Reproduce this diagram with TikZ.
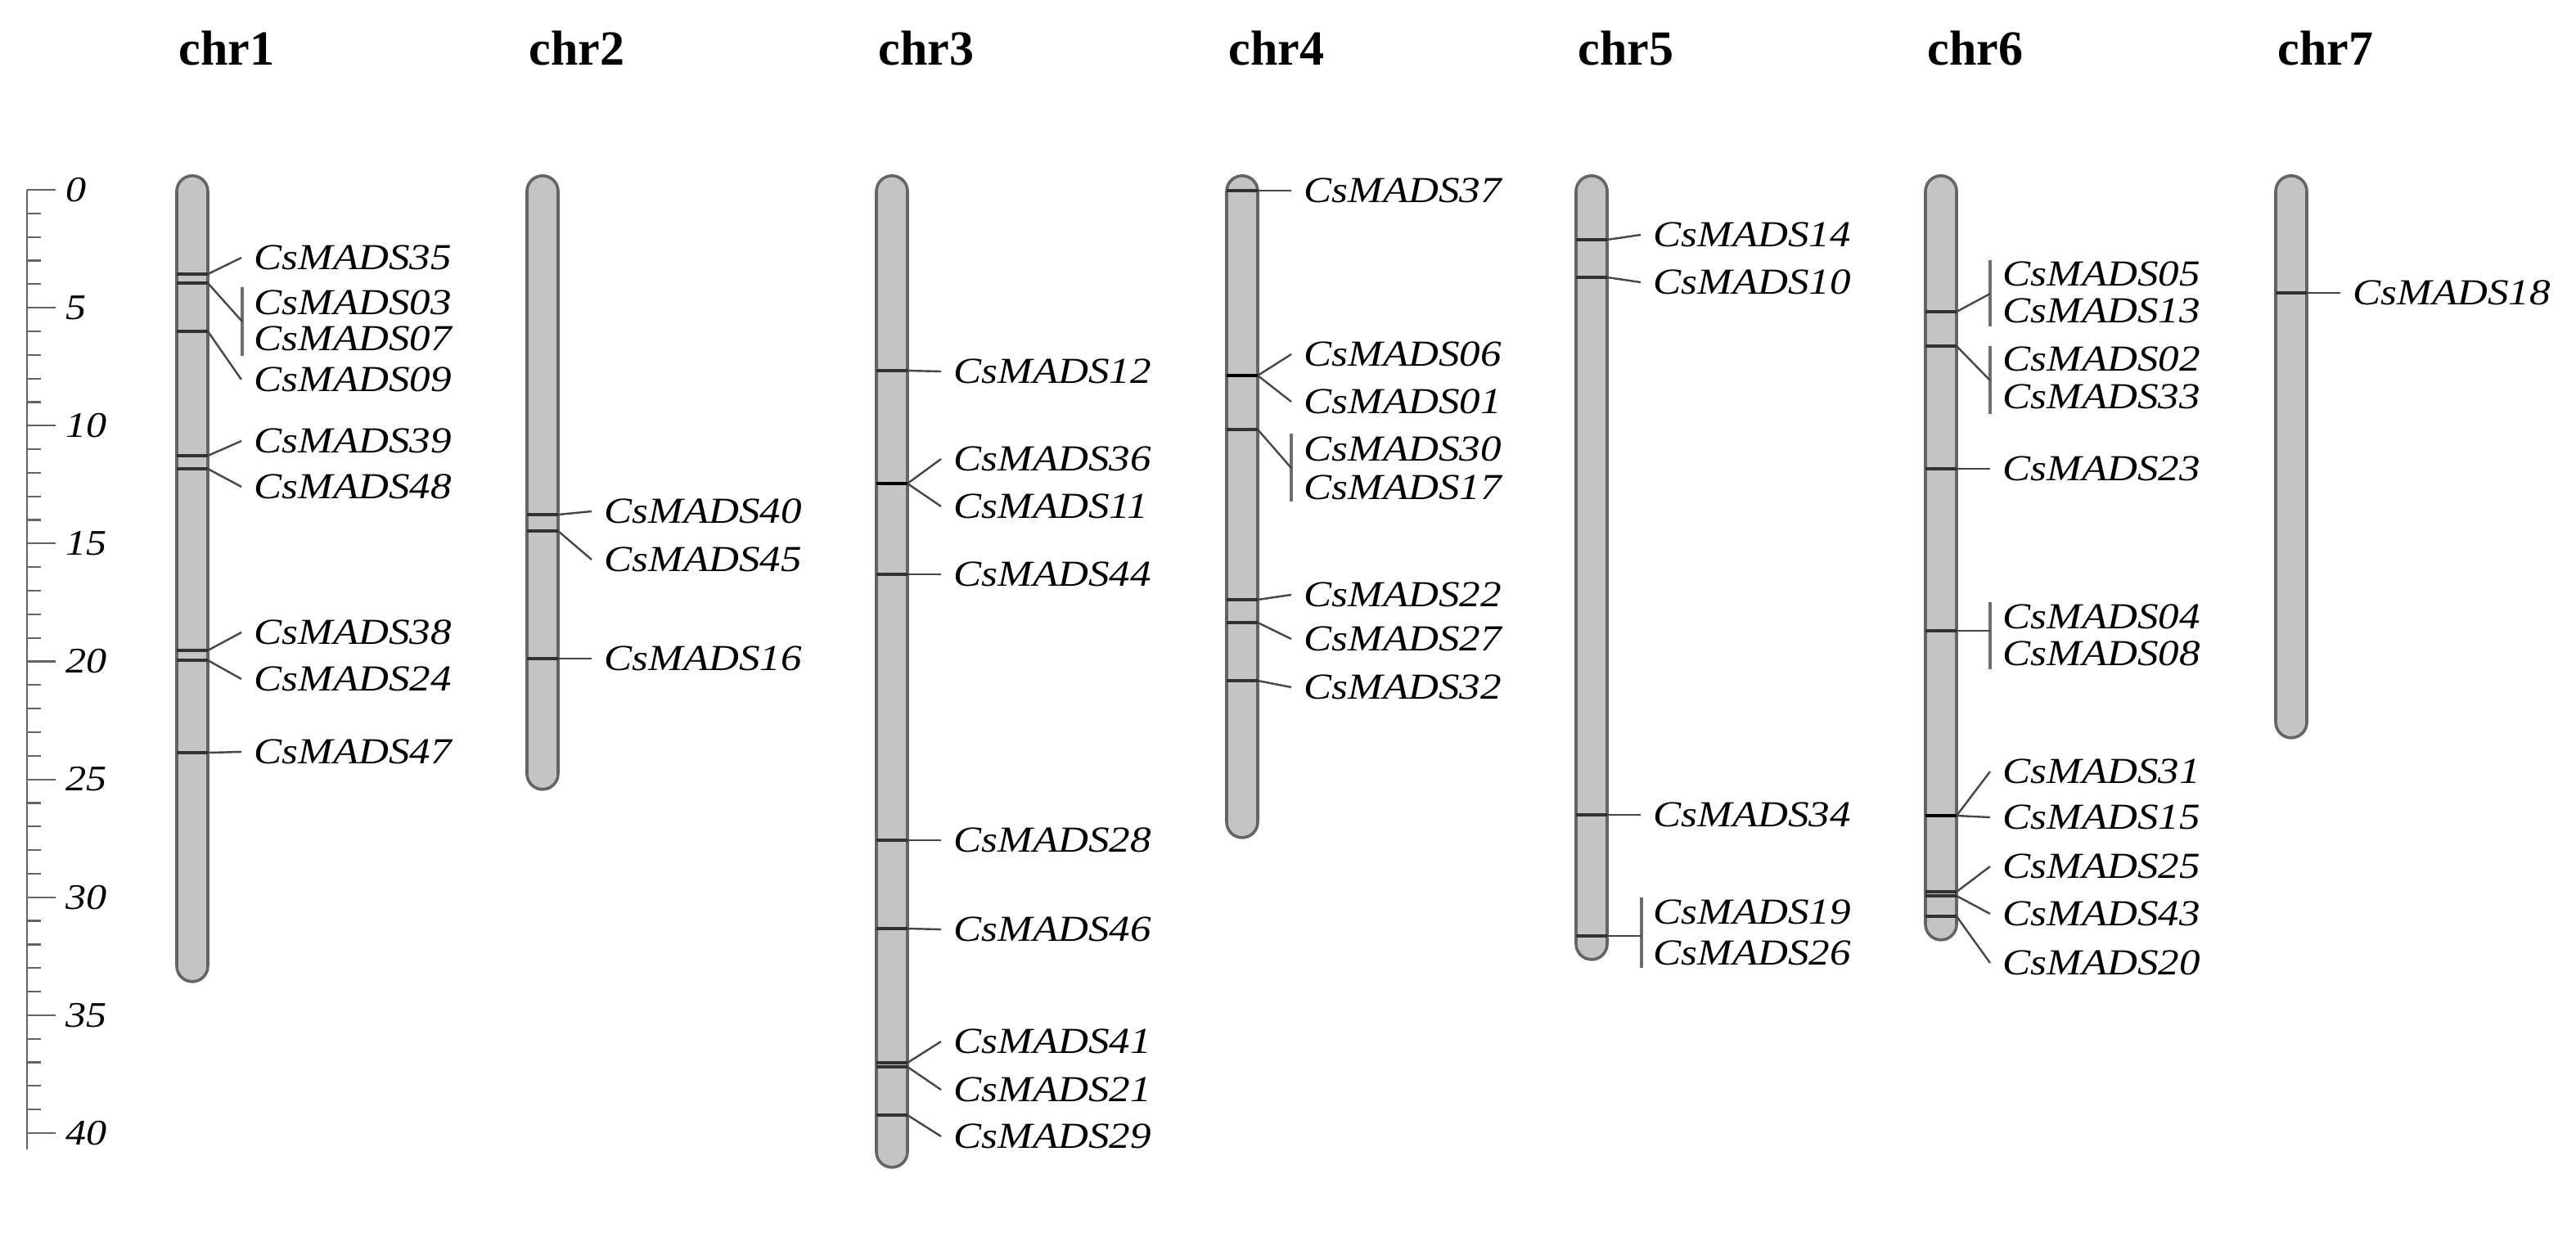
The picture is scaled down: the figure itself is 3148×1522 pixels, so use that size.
\documentclass[tikz,border=0pt]{standalone}
\usepackage{fontspec}
\setmainfont{Liberation Serif}
\usepackage{graphicx}
\definecolor{chrfill}{RGB}{196,196,196}
\definecolor{chredge}{RGB}{100,100,100}
\definecolor{bandcol}{RGB}{50,50,50}
\definecolor{conncol}{RGB}{70,70,70}
\definecolor{barcol}{RGB}{110,110,110}
\definecolor{tickcol}{RGB}{100,100,100}
\newcommand\lbl[1]{\scalebox{1.14}[1]{#1}}
\newcommand\gband[4]{\draw[#4] ({#1-19},#2) -- ({#1+19},#2) coordinate (#3);}
\begin{document}
\begin{tikzpicture}[x=0.25pt,y=-0.25pt,
  chrom/.style={draw=chredge, fill=chrfill, line width=0.9pt, minimum width=9.5pt, inner sep=0pt, rounded corners=4.75pt, anchor=north},
  band/.style={draw=bandcol, line width=0.8pt},
  bandbold/.style={draw=black, line width=1.1pt},
  conn/.style={draw=conncol, line width=0.6pt},
  bracketbar/.style={draw=barcol, line width=0.85pt},
  lab/.style={anchor=west, inner xsep=3.75pt, inner ysep=0pt, font=\itshape\fontsize{11.2}{13}\selectfont},
  num/.style={anchor=west, inner sep=0pt, font=\itshape\fontsize{11}{13}\selectfont},
  ttl/.style={anchor=base west, inner sep=0pt, font=\bfseries\fontsize{15}{18}\selectfont},
  tick/.style={draw=tickcol, line width=0.55pt}]
\fill[white] (0,0) rectangle (3148,1522);
\useasboundingbox (0,0) rectangle (3148,1522);

% scale
\draw[tick] (33,232) -- (33,1405);
\foreach \k in {0,...,40}{\draw[tick] (33,{232+28.825*\k}) -- (50,{232+28.825*\k});}
\foreach \k in {0,5,...,40}{\draw[tick] (33,{232+28.825*\k}) -- (68,{232+28.825*\k});
  \node[num] (s\k) at (80,{232+28.825*\k}) {\lbl{\k}};}

% titles
\node[ttl] (t1) at (218,79) {chr1};
\node[ttl] (t2) at (646,79) {chr2};
\node[ttl] (t3) at (1073,79) {chr3};
\node[ttl] (t4) at (1501,79) {chr4};
\node[ttl] (t5) at (1928,79) {chr5};
\node[ttl] (t6) at (2355,79) {chr6};
\node[ttl] (t7) at (2783,79) {chr7};

% chromosomes
\node[chrom, minimum height=246.25pt] (chr1) at (235,213) {};
\node[chrom, minimum height=187.5pt] (chr2) at (663,213) {};
\node[chrom, minimum height=303pt] (chr3) at (1090,213) {};
\node[chrom, minimum height=202.25pt] (chr4) at (1518,213) {};
\node[chrom, minimum height=239.5pt] (chr5) at (1945,213) {};
\node[chrom, minimum height=233.5pt] (chr6) at (2372,213) {};
\node[chrom, minimum height=171.75pt] (chr7) at (2800,213) {};

% ---------- chr1 ----------
\gband{235}{335}{b35}{band}
\gband{235}{346}{b03}{band}
\gband{235}{405}{b09}{band}
\gband{235}{557}{b39}{band}
\gband{235}{573}{b48}{band}
\gband{235}{795}{b38}{band}
\gband{235}{807}{b24}{band}
\gband{235}{920}{b47}{band}
\node[lab] (CsMADS35) at (295,315) {\lbl{CsMADS35}};
\node[lab] (CsMADS03) at (295,370) {\lbl{CsMADS03}};
\node[lab] (CsMADS07) at (295,414) {\lbl{CsMADS07}};
\node[lab] (CsMADS09) at (295,464) {\lbl{CsMADS09}};
\node[lab] (CsMADS39) at (295,539) {\lbl{CsMADS39}};
\node[lab] (CsMADS48) at (295,595) {\lbl{CsMADS48}};
\node[lab] (CsMADS38) at (295,773) {\lbl{CsMADS38}};
\node[lab] (CsMADS24) at (295,830) {\lbl{CsMADS24}};
\node[lab] (CsMADS47) at (295,919) {\lbl{CsMADS47}};
\coordinate (m03) at (296,393);
\draw[bracketbar] (296,351) -- (296,435);
\draw[conn] (b35) -- (CsMADS35.west);
\draw[conn] (b03) -- (m03);
\draw[conn] (b09) -- (CsMADS09.west);
\draw[conn] (b39) -- (CsMADS39.west);
\draw[conn] (b48) -- (CsMADS48.west);
\draw[conn] (b38) -- (CsMADS38.west);
\draw[conn] (b24) -- (CsMADS24.west);
\draw[conn] (b47) -- (CsMADS47.west);

% ---------- chr2 ----------
\gband{663}{629}{b40}{band}
\gband{663}{649}{b45}{band}
\gband{663}{805}{b16}{band}
\node[lab] (CsMADS40) at (723,625) {\lbl{CsMADS40}};
\node[lab] (CsMADS45) at (723,684) {\lbl{CsMADS45}};
\node[lab] (CsMADS16) at (723,805) {\lbl{CsMADS16}};
\draw[conn] (b40) -- (CsMADS40.west);
\draw[conn] (b45) -- (CsMADS45.west);
\draw[conn] (b16) -- (CsMADS16.west);

% ---------- chr3 ----------
\gband{1090}{453}{b12}{band}
\gband{1090}{591}{b36}{bandbold}
\gband{1090}{702}{b44}{band}
\gband{1090}{1027}{b28}{band}
\gband{1090}{1135}{b46}{band}
\gband{1090}{1299}{b41}{band}
\gband{1090}{1304}{b21}{band}
\gband{1090}{1363}{b29}{band}
\node[lab] (CsMADS12) at (1150,454) {\lbl{CsMADS12}};
\node[lab] (CsMADS36) at (1150,561) {\lbl{CsMADS36}};
\node[lab] (CsMADS11) at (1150,619) {\lbl{CsMADS11}};
\node[lab] (CsMADS44) at (1150,702) {\lbl{CsMADS44}};
\node[lab] (CsMADS28) at (1150,1027) {\lbl{CsMADS28}};
\node[lab] (CsMADS46) at (1150,1136) {\lbl{CsMADS46}};
\node[lab] (CsMADS41) at (1150,1273) {\lbl{CsMADS41}};
\node[lab] (CsMADS21) at (1150,1332) {\lbl{CsMADS21}};
\node[lab] (CsMADS29) at (1150,1389) {\lbl{CsMADS29}};
\draw[conn] (b12) -- (CsMADS12.west);
\draw[conn] (b36) -- (CsMADS36.west);
\draw[conn] (b36) -- (CsMADS11.west);
\draw[conn] (b44) -- (CsMADS44.west);
\draw[conn] (b28) -- (CsMADS28.west);
\draw[conn] (b46) -- (CsMADS46.west);
\draw[conn] (b41) -- (CsMADS41.west);
\draw[conn] (b21) -- (CsMADS21.west);
\draw[conn] (b29) -- (CsMADS29.west);

% ---------- chr4 ----------
\gband{1518}{233}{b37}{band}
\gband{1518}{459}{b06}{bandbold}
\gband{1518}{525}{b30}{band}
\gband{1518}{733}{b22}{band}
\gband{1518}{761}{b27}{band}
\gband{1518}{832}{b32}{band}
\node[lab] (CsMADS37) at (1578,233) {\lbl{CsMADS37}};
\node[lab] (CsMADS06) at (1578,433) {\lbl{CsMADS06}};
\node[lab] (CsMADS01) at (1578,491) {\lbl{CsMADS01}};
\node[lab] (CsMADS30) at (1578,549) {\lbl{CsMADS30}};
\node[lab] (CsMADS17) at (1578,596) {\lbl{CsMADS17}};
\node[lab] (CsMADS22) at (1578,727) {\lbl{CsMADS22}};
\node[lab] (CsMADS27) at (1578,781) {\lbl{CsMADS27}};
\node[lab] (CsMADS32) at (1578,840) {\lbl{CsMADS32}};
\coordinate (m30) at (1578,572);
\draw[bracketbar] (1578,530) -- (1578,613);
\draw[conn] (b37) -- (CsMADS37.west);
\draw[conn] (b06) -- (CsMADS06.west);
\draw[conn] (b06) -- (CsMADS01.west);
\draw[conn] (b30) -- (m30);
\draw[conn] (b22) -- (CsMADS22.west);
\draw[conn] (b27) -- (CsMADS27.west);
\draw[conn] (b32) -- (CsMADS32.west);

% ---------- chr5 ----------
\gband{1945}{293}{b14}{band}
\gband{1945}{339}{b10}{band}
\gband{1945}{996}{b34}{band}
\gband{1945}{1144}{b19}{band}
\node[lab] (CsMADS14) at (2005,287) {\lbl{CsMADS14}};
\node[lab] (CsMADS10) at (2005,345) {\lbl{CsMADS10}};
\node[lab] (CsMADS34) at (2005,996) {\lbl{CsMADS34}};
\node[lab] (CsMADS19) at (2005,1115) {\lbl{CsMADS19}};
\node[lab] (CsMADS26) at (2005,1165) {\lbl{CsMADS26}};
\coordinate (m19) at (2006,1144);
\draw[bracketbar] (2006,1097) -- (2006,1183);
\draw[conn] (b14) -- (CsMADS14.west);
\draw[conn] (b10) -- (CsMADS10.west);
\draw[conn] (b34) -- (CsMADS34.west);
\draw[conn] (b19) -- (m19);

% ---------- chr6 ----------
\gband{2372}{381}{b05}{band}
\gband{2372}{423}{b02}{band}
\gband{2372}{573}{b23}{band}
\gband{2372}{771}{b04}{band}
\gband{2372}{997}{b31}{bandbold}
\gband{2372}{1090}{b25}{band}
\gband{2372}{1095}{b43}{band}
\gband{2372}{1120}{b20}{band}
\node[lab] (CsMADS05) at (2432,335) {\lbl{CsMADS05}};
\node[lab] (CsMADS13) at (2432,380) {\lbl{CsMADS13}};
\node[lab] (CsMADS02) at (2432,439) {\lbl{CsMADS02}};
\node[lab] (CsMADS33) at (2432,485) {\lbl{CsMADS33}};
\node[lab] (CsMADS23) at (2432,573) {\lbl{CsMADS23}};
\node[lab] (CsMADS04) at (2432,754) {\lbl{CsMADS04}};
\node[lab] (CsMADS08) at (2432,799) {\lbl{CsMADS08}};
\node[lab] (CsMADS31) at (2432,943) {\lbl{CsMADS31}};
\node[lab] (CsMADS15) at (2432,999) {\lbl{CsMADS15}};
\node[lab] (CsMADS25) at (2432,1059) {\lbl{CsMADS25}};
\node[lab] (CsMADS43) at (2432,1117) {\lbl{CsMADS43}};
\node[lab] (CsMADS20) at (2432,1177) {\lbl{CsMADS20}};
\coordinate (m05) at (2432,359);
\coordinate (m02) at (2432,465);
\coordinate (m04) at (2432,771);
\draw[bracketbar] (2432,318) -- (2432,399);
\draw[bracketbar] (2432,423) -- (2432,506);
\draw[bracketbar] (2432,736) -- (2432,818);
\draw[conn] (b05) -- (m05);
\draw[conn] (b02) -- (m02);
\draw[conn] (b23) -- (CsMADS23.west);
\draw[conn] (b04) -- (m04);
\draw[conn] (b31) -- (CsMADS31.west);
\draw[conn] (b31) -- (CsMADS15.west);
\draw[conn] (b25) -- (CsMADS25.west);
\draw[conn] (b43) -- (CsMADS43.west);
\draw[conn] (b20) -- (CsMADS20.west);

% ---------- chr7 ----------
\gband{2800}{358}{b18}{band}
\node[lab] (CsMADS18) at (2860,358) {\lbl{CsMADS18}};
\draw[conn] (b18) -- (CsMADS18.west);
\end{tikzpicture}
\end{document}
